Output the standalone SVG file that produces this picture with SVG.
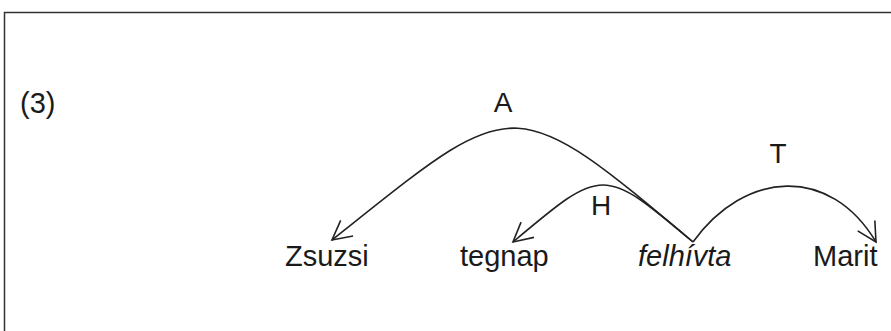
<svg xmlns="http://www.w3.org/2000/svg" width="891" height="331" viewBox="0 0 891 331">
  <style>
    .word { font-family: "Liberation Sans", Arial, sans-serif; font-size: 29px; fill: #1a1a1a; }
    .lbl { font-family: "Liberation Sans", Arial, sans-serif; font-size: 28px; fill: #1a1a1a; text-anchor: middle; }
    .arc { fill: none; stroke: #222; stroke-width: 1.6; marker-end: url(#open); }
  </style>
  <defs>
    <marker id="open" markerUnits="userSpaceOnUse" markerWidth="32" markerHeight="32" viewBox="-26 -16 32 32" refX="0" refY="0" orient="auto">
      <path d="M -19 -10 L 0 0 L -19 10" fill="none" stroke="#222" stroke-width="1.6"/>
    </marker>
  </defs>
  <rect width="891" height="331" fill="#fff"/>
  <!-- frame: only top and left edges are within the sheet -->
  <path d="M 4.5 331 L 4.5 12.5 L 891 12.5" fill="none" stroke="#333" stroke-width="1.5"/>

  <text class="word" x="20" y="113">(3)</text>

  <g id="node-zsuzsi"><text class="word" x="285" y="266">Zsuzsi</text></g>
  <g id="node-tegnap"><text class="word" x="460" y="266">tegnap</text></g>
  <g id="node-felhivta"><text class="word" x="638" y="266" font-style="italic">felhívta</text></g>
  <g id="node-marit"><text class="word" x="813" y="266">Marit</text></g>

  <g id="connectors">
    <path class="arc" d="M 693 242 C 509 87, 516 94, 332 240"/>
    <path class="arc" d="M 693 242 C 603 166, 603 166, 513 242"/>
    <path class="arc" d="M 693 242 C 745 170, 830 165, 876 242"/>
    <text class="lbl" x="503" y="112">A</text>
    <text class="lbl" x="601" y="215">H</text>
    <text class="lbl" x="778" y="163">T</text>
  </g>
</svg>
